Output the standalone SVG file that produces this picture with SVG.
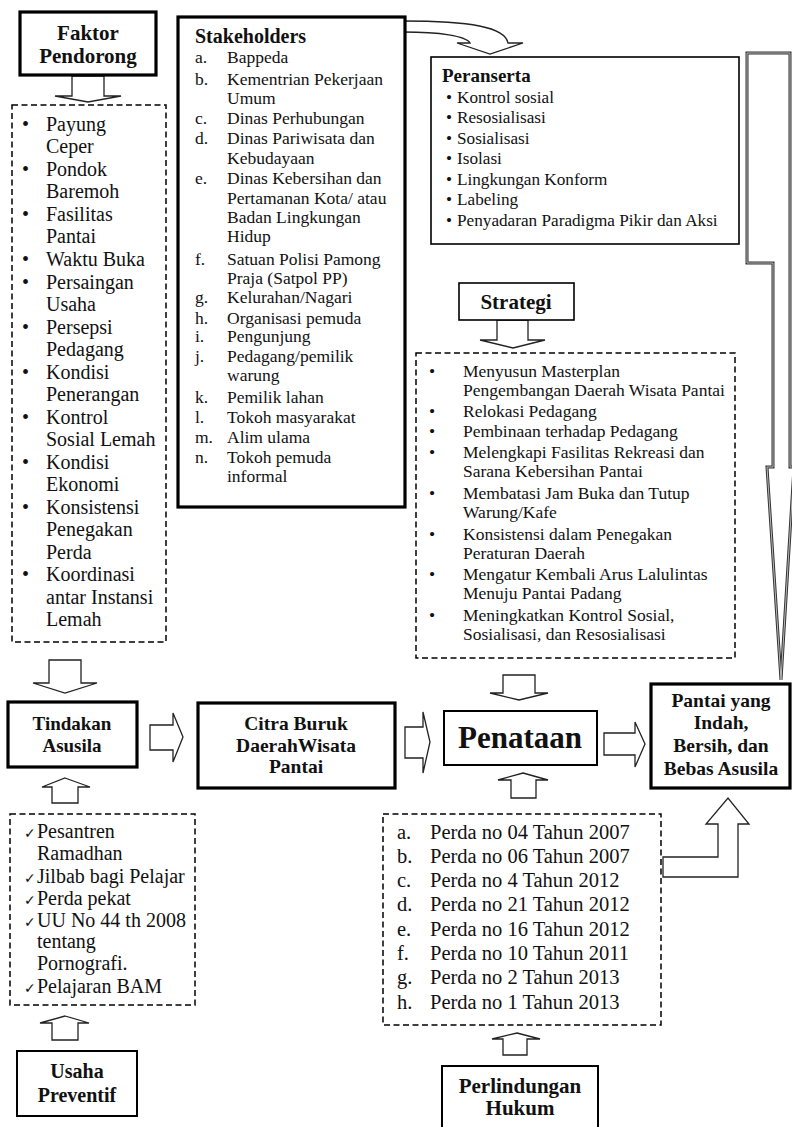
<svg xmlns="http://www.w3.org/2000/svg" width="792" height="1127" viewBox="0 0 792 1127">
<style>
.box{fill:#fff;stroke:#000;stroke-width:1.6}
.thick{stroke-width:3.2}
.med{stroke-width:2}
.dash{fill:#fff;stroke:#000;stroke-width:1.5;stroke-dasharray:6 3.5}
.arr{fill:#fff;stroke:#222;stroke-width:1.3;stroke-linejoin:miter}
.big{fill:#fff;stroke:#333;stroke-width:3;stroke-linejoin:miter}
.bigin{fill:none;stroke:#bbb;stroke-width:1;stroke-linejoin:miter}
text{font-family:"Liberation Serif","Times New Roman",serif;fill:#111}
.b{font-weight:bold}
.c{text-anchor:middle}
.l20{font-size:20px}
.s17{font-size:17.5px}
.p17{font-size:17.2px}
.p20{font-size:20.5px}
.ck{font-family:"DejaVu Sans",sans-serif;font-size:14px}
</style>
<rect width="792" height="1127" fill="#fff"/>

<g id="connectors">
  <!-- Faktor -> list -->
  <polygon class="arr" points="72,76 104,76 104,96 121,96 88,102 55,96 72,96"/>
  <!-- list -> Tindakan -->
  <polygon class="arr" points="49,660 81,660 81,683 97,683 65,693 33,683 49,683"/>
  <!-- Tindakan <- preventif list -->
  <polygon class="arr" points="65,778 90,787 78,787 78,803 52,803 52,787 42,787"/>
  <!-- preventif list <- Usaha -->
  <polygon class="arr" points="65,1016 89,1023 78,1023 78,1040 52,1040 52,1023 40,1023"/>
  <!-- Tindakan -> Citra -->
  <polygon class="arr" points="150,725 173,725 173,713 183,737 173,762 173,750 150,750"/>
  <!-- Citra -> Penataan -->
  <polygon class="arr" points="405,727 423,727 423,712 430,742 423,773 423,758 405,758"/>
  <!-- Strategi -> list -->
  <polygon class="arr" points="497,320 528,320 528,340 545,340 513,348 480,340 497,340"/>
  <!-- Strategi list -> Penataan -->
  <polygon class="arr" points="503,675 535,675 535,693 548,693 519,700 490,693 503,693"/>
  <!-- Perda list -> Penataan -->
  <polygon class="arr" points="523,773 548,780 536,780 536,798 511,798 511,780 498,780"/>
  <!-- Perlindungan -> Perda list -->
  <polygon class="arr" points="517,1033 540,1039 527,1039 527,1055 503,1055 503,1039 492,1039"/>
  <!-- Penataan -> Pantai -->
  <polygon class="arr" points="604,733 635,733 635,722 645,744 635,767 635,755 604,755"/>
  <!-- Perda list -> Pantai (bent up arrow) -->
  <polygon class="arr" points="663,857 718,857 718,824 706,824 728,798 749,824 738,824 738,877 663,877"/>
  <!-- Stakeholders -> Peranserta (curved) -->
  <path class="arr" d="M403,21 C470,21 505,27 508,43 L523,43 L490,54 L457,43 L470,43 C466,36 440,32 403,32"/>
  <!-- Peranserta -> Pantai (big arrow) -->
  <polygon class="big" points="747,53 790,53 790,467 794,467 781,680 767,467 773,467 773,263 747,263"/>
  <polygon class="bigin" points="747,53 790,53 790,467 794,467 781,680 767,467 773,467 773,263 747,263"/>
</g>

<g id="faktor-pendorong">
  <rect class="box thick" x="20" y="12" width="136" height="63"/>
  <text class="b c" x="88" y="40" font-size="21">Faktor</text>
  <text class="b c" x="88" y="63" font-size="21">Pendorong</text>
</g>

<g id="faktor-list">
  <rect class="dash" x="12" y="105" width="154" height="537"/>
  <g class="l20">
    <text x="22" y="131">•</text><text x="46" y="131">Payung</text>
    <text x="46" y="153">Ceper</text>
    <text x="22" y="176">•</text><text x="46" y="176">Pondok</text>
    <text x="46" y="198">Baremoh</text>
    <text x="22" y="221">•</text><text x="46" y="221">Fasilitas</text>
    <text x="46" y="243">Pantai</text>
    <text x="22" y="266">•</text><text x="46" y="266">Waktu Buka</text>
    <text x="22" y="289">•</text><text x="46" y="289">Persaingan</text>
    <text x="46" y="311">Usaha</text>
    <text x="22" y="334">•</text><text x="46" y="334">Persepsi</text>
    <text x="46" y="356">Pedagang</text>
    <text x="22" y="379">•</text><text x="46" y="379">Kondisi</text>
    <text x="46" y="401">Penerangan</text>
    <text x="22" y="424">•</text><text x="46" y="424">Kontrol</text>
    <text x="46" y="446">Sosial Lemah</text>
    <text x="22" y="469">•</text><text x="46" y="469">Kondisi</text>
    <text x="46" y="491">Ekonomi</text>
    <text x="22" y="514">•</text><text x="46" y="514">Konsistensi</text>
    <text x="46" y="536">Penegakan</text>
    <text x="46" y="559">Perda</text>
    <text x="22" y="581">•</text><text x="46" y="581">Koordinasi</text>
    <text x="46" y="604">antar Instansi</text>
    <text x="46" y="626">Lemah</text>
  </g>
</g>

<g id="stakeholders">
  <rect class="box thick" x="178" y="17" width="227" height="490"/>
  <text class="b" x="195" y="43" font-size="20">Stakeholders</text>
  <g class="s17">
    <text x="195" y="63">a.</text><text x="227" y="63">Bappeda</text>
    <text x="195" y="85">b.</text><text x="227" y="85">Kementrian Pekerjaan</text>
    <text x="227" y="104">Umum</text>
    <text x="195" y="124">c.</text><text x="227" y="124">Dinas Perhubungan</text>
    <text x="195" y="144">d.</text><text x="227" y="144">Dinas Pariwisata dan</text>
    <text x="227" y="164">Kebudayaan</text>
    <text x="195" y="184">e.</text><text x="227" y="184">Dinas Kebersihan dan</text>
    <text x="227" y="204">Pertamanan Kota/ atau</text>
    <text x="227" y="223">Badan Lingkungan</text>
    <text x="227" y="242">Hidup</text>
    <text x="195" y="265">f.</text><text x="227" y="265">Satuan Polisi Pamong</text>
    <text x="227" y="284">Praja (Satpol PP)</text>
    <text x="195" y="303">g.</text><text x="227" y="303">Kelurahan/Nagari</text>
    <text x="195" y="324">h.</text><text x="227" y="324">Organisasi pemuda</text>
    <text x="195" y="342">i.</text><text x="227" y="342">Pengunjung</text>
    <text x="195" y="362">j.</text><text x="227" y="362">Pedagang/pemilik</text>
    <text x="227" y="381">warung</text>
    <text x="195" y="403">k.</text><text x="227" y="403">Pemilik lahan</text>
    <text x="195" y="423">l.</text><text x="227" y="423">Tokoh masyarakat</text>
    <text x="195" y="443">m.</text><text x="227" y="443">Alim ulama</text>
    <text x="195" y="463">n.</text><text x="227" y="463">Tokoh pemuda</text>
    <text x="227" y="482">informal</text>
  </g>
</g>

<g id="peranserta">
  <rect class="box" x="431" y="57" width="308" height="187"/>
  <text class="b" x="442" y="82" font-size="19">Peranserta</text>
  <g class="p17">
    <text x="446" y="103">•</text><text x="457" y="103">Kontrol sosial</text>
    <text x="446" y="123">•</text><text x="457" y="123">Resosialisasi</text>
    <text x="446" y="144">•</text><text x="457" y="144">Sosialisasi</text>
    <text x="446" y="164">•</text><text x="457" y="164">Isolasi</text>
    <text x="446" y="185">•</text><text x="457" y="185">Lingkungan Konform</text>
    <text x="446" y="205">•</text><text x="457" y="205">Labeling</text>
    <text x="446" y="226">•</text><text x="457" y="226">Penyadaran Paradigma Pikir dan Aksi</text>
  </g>
</g>

<g id="strategi">
  <rect class="box" x="459" y="283" width="115" height="37"/>
  <text class="b c" x="516" y="309" font-size="21">Strategi</text>
</g>

<g id="strategi-list">
  <rect class="dash" x="416" y="353" width="319" height="305"/>
  <g class="s17">
    <text x="429" y="377">•</text><text x="463" y="377">Menyusun Masterplan</text>
    <text x="463" y="396">Pengembangan Daerah Wisata Pantai</text>
    <text x="429" y="417">•</text><text x="463" y="417">Relokasi Pedagang</text>
    <text x="429" y="437">•</text><text x="463" y="437">Pembinaan terhadap Pedagang</text>
    <text x="429" y="458">•</text><text x="463" y="458">Melengkapi Fasilitas Rekreasi dan</text>
    <text x="463" y="477">Sarana Kebersihan Pantai</text>
    <text x="429" y="499">•</text><text x="463" y="499">Membatasi Jam Buka dan Tutup</text>
    <text x="463" y="518">Warung/Kafe</text>
    <text x="429" y="540">•</text><text x="463" y="540">Konsistensi dalam Penegakan</text>
    <text x="463" y="559">Peraturan Daerah</text>
    <text x="429" y="580">•</text><text x="463" y="580">Mengatur Kembali Arus Lalulintas</text>
    <text x="463" y="599">Menuju Pantai Padang</text>
    <text x="429" y="621">•</text><text x="463" y="621">Meningkatkan Kontrol Sosial,</text>
    <text x="463" y="640">Sosialisasi, dan Resosialisasi</text>
  </g>
</g>

<g id="tindakan-asusila">
  <rect class="box thick" x="8" y="702" width="129" height="65"/>
  <text class="b c" x="72" y="730" font-size="19">Tindakan</text>
  <text class="b c" x="72" y="752" font-size="19">Asusila</text>
</g>

<g id="citra-buruk">
  <rect class="box thick" x="198" y="703" width="197" height="85"/>
  <text class="b c" x="296" y="730" font-size="19.5">Citra Buruk</text>
  <text class="b c" x="296" y="752" font-size="19.5">DaerahWisata</text>
  <text class="b c" x="296" y="773" font-size="19.5">Pantai</text>
</g>

<g id="penataan">
  <rect class="box med" x="444" y="711" width="153" height="54"/>
  <text class="b c" x="520" y="748" font-size="31">Penataan</text>
</g>

<g id="pantai">
  <rect class="box thick" x="651" y="684" width="139" height="104"/>
  <text class="b c" x="721" y="707" font-size="19.5">Pantai yang</text>
  <text class="b c" x="721" y="729" font-size="19.5">Indah,</text>
  <text class="b c" x="721" y="752" font-size="19.5">Bersih, dan</text>
  <text class="b c" x="721" y="775" font-size="19.5">Bebas Asusila</text>
</g>

<g id="preventif-list">
  <rect class="dash" x="10" y="814" width="185" height="191"/>
  <g class="l20">
    <text x="24" y="838"><tspan class="ck">✓</tspan><tspan x="37">Pesantren</tspan></text>
    <text x="37" y="860">Ramadhan</text>
    <text x="24" y="883"><tspan class="ck">✓</tspan><tspan x="37">Jilbab bagi Pelajar</tspan></text>
    <text x="24" y="905"><tspan class="ck">✓</tspan><tspan x="37">Perda pekat</tspan></text>
    <text x="24" y="927"><tspan class="ck">✓</tspan><tspan x="37">UU No 44 th 2008</tspan></text>
    <text x="37" y="948">tentang</text>
    <text x="37" y="970">Pornografi.</text>
    <text x="24" y="993"><tspan class="ck">✓</tspan><tspan x="37">Pelajaran BAM</tspan></text>
  </g>
</g>

<g id="usaha-preventif">
  <rect class="box med" x="17" y="1051" width="120" height="65"/>
  <text class="b c" x="77" y="1078" font-size="20">Usaha</text>
  <text class="b c" x="77" y="1102" font-size="20">Preventif</text>
</g>

<g id="perda-list">
  <rect class="dash" x="383" y="814" width="278" height="211"/>
  <g class="p20">
    <text x="397" y="839">a.</text><text x="430" y="839">Perda no 04 Tahun 2007</text>
    <text x="397" y="863">b.</text><text x="430" y="863">Perda no 06 Tahun 2007</text>
    <text x="397" y="887">c.</text><text x="430" y="887">Perda no 4 Tahun 2012</text>
    <text x="397" y="911">d.</text><text x="430" y="911">Perda no 21 Tahun 2012</text>
    <text x="397" y="936">e.</text><text x="430" y="936">Perda no 16 Tahun 2012</text>
    <text x="397" y="960">f.</text><text x="430" y="960">Perda no 10 Tahun 2011</text>
    <text x="397" y="984">g.</text><text x="430" y="984">Perda no 2 Tahun 2013</text>
    <text x="397" y="1009">h.</text><text x="430" y="1009">Perda no 1 Tahun 2013</text>
  </g>
</g>

<g id="perlindungan-hukum">
  <rect class="box med" x="442" y="1066" width="156" height="75"/>
  <text class="b c" x="520" y="1093" font-size="21">Perlindungan</text>
  <text class="b c" x="520" y="1115" font-size="21">Hukum</text>
</g>
</svg>
